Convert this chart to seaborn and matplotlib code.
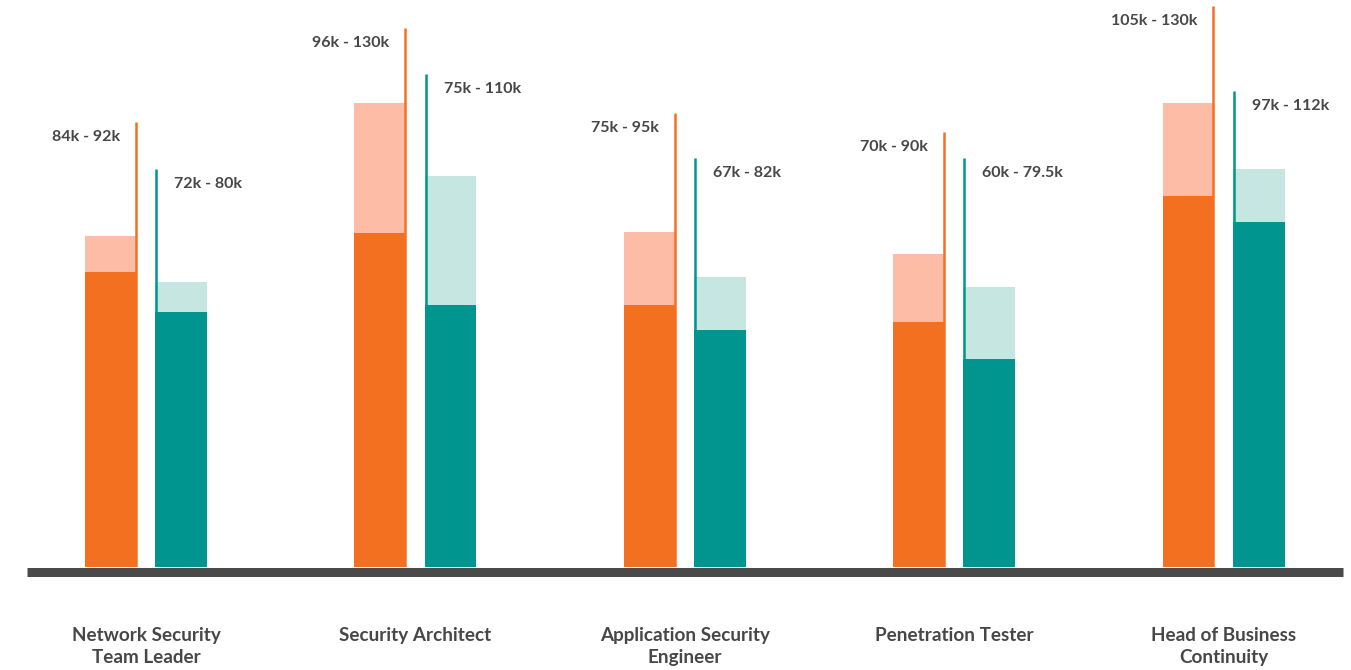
import numpy as np
import pandas as pd
import matplotlib
matplotlib.use('Agg')
import matplotlib.pyplot as plt
import seaborn as sns

sns.set_style('white')
plt.rcParams['font.family'] = ['Lato', 'DejaVu Sans']

# Roles and salary range labels
roles = ["Network Security\nTeam Leader", "Security Architect",
         "Application Security\nEngineer", "Penetration Tester",
         "Head of Business\nContinuity"]
orange_labels = ["84k - 92k", "96k - 130k", "75k - 95k", "70k - 90k", "105k - 130k"]
teal_labels = ["72k - 80k", "75k - 110k", "67k - 82k", "60k - 79.5k", "97k - 112k"]

# Bar heights as drawn in the picture (chart units above the baseline)
orange_low = [295, 334, 262, 245, 371]
orange_high = [331, 464, 335, 313, 464]
orange_line = [445, 539, 454, 435, 561]
teal_low = [255, 262, 237, 208, 345]
teal_high = [285, 391, 290, 280, 398]
teal_line = [398, 493, 409, 409, 476]

# Colours
orange_dark, orange_light = '#F37021', '#FDBCA6'
teal_dark, teal_light = '#00968F', '#C6E6E1'
text_color = '#474747'

df = pd.DataFrame({
    'role': roles * 2,
    'series': ['orange'] * 5 + ['teal'] * 5,
    'low': orange_low + teal_low,
    'high': orange_high + teal_high,
})

fig = plt.figure(figsize=(13.51, 6.70), dpi=100)
ax = fig.add_axes([27 / 1351, 103 / 670, 1316 / 1351, 567 / 670])

bar_width, bar_gap = 0.52, 0.26
common = dict(data=df, x='role', hue='series', width=bar_width, gap=bar_gap,
              dodge=True, legend=False, saturation=1, linewidth=0, ax=ax)
sns.barplot(y='high', palette={'orange': orange_light, 'teal': teal_light}, **common)
sns.barplot(y='low', palette={'orange': orange_dark, 'teal': teal_dark}, **common)

# Range lines and labels
half = bar_width / 4 * (1 - bar_gap)
centers = np.arange(len(roles))
lw = 2.5 * 72 / 100
for i, c in enumerate(centers):
    xo = c - bar_width / 4 + half - 0.004
    xt = c + bar_width / 4 - half + 0.004
    ax.vlines(xo, 0, orange_line[i], color=orange_dark, lw=lw)
    ax.vlines(xt, 0, teal_line[i], color=teal_dark, lw=lw)
    ax.annotate(orange_labels[i], xy=(xo, orange_line[i]), xytext=(-16, -15),
                textcoords='offset pixels', ha='right', va='center',
                fontsize=11.5, fontweight='bold', color=text_color)
    ax.annotate(teal_labels[i], xy=(xt, teal_line[i]), xytext=(18, -15),
                textcoords='offset pixels', ha='left', va='center',
                fontsize=11.5, fontweight='bold', color=text_color)

# Category names under the baseline
for c, name in zip(centers, roles):
    ax.text(c, -0.106, name, transform=ax.get_xaxis_transform(),
            ha='center', va='top', multialignment='center', linespacing=1.34,
            fontsize=13.6, fontweight='bold', color=text_color)

ax.set_xlim((27 - 146) / 269.4, (1343 - 146) / 269.4)
ax.set_ylim(0, 567)
ax.set_xlabel('')
ax.set_ylabel('')
ax.set_yticks([])
ax.set_xticks([])

for side in ['top', 'left', 'right']:
    ax.spines[side].set_visible(False)
ax.spines['bottom'].set_color('#4A4A4A')
ax.spines['bottom'].set_linewidth(9 * 72 / 100)
ax.spines['bottom'].set_capstyle('butt')
ax.spines['bottom'].set_position(('outward', 4.5 * 72 / 100))

fig.savefig('out.png', dpi=100)
